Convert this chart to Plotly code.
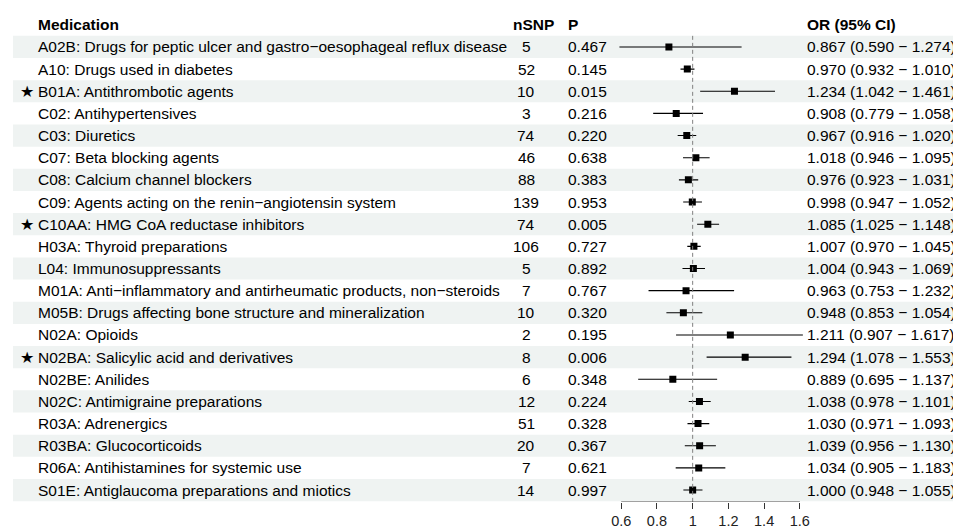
import plotly.graph_objects as go

medication = [
    "A02B: Drugs for peptic ulcer and gastro\u2212oesophageal reflux disease",
    "A10: Drugs used in diabetes",
    "B01A: Antithrombotic agents",
    "C02: Antihypertensives",
    "C03: Diuretics",
    "C07: Beta blocking agents",
    "C08: Calcium channel blockers",
    "C09: Agents acting on the renin\u2212angiotensin system",
    "C10AA: HMG CoA reductase inhibitors",
    "H03A: Thyroid preparations",
    "L04: Immunosuppressants",
    "M01A: Anti\u2212inflammatory and antirheumatic products, non\u2212steroids",
    "M05B: Drugs affecting bone structure and mineralization",
    "N02A: Opioids",
    "N02BA: Salicylic acid and derivatives",
    "N02BE: Anilides",
    "N02C: Antimigraine preparations",
    "R03A: Adrenergics",
    "R03BA: Glucocorticoids",
    "R06A: Antihistamines for systemic use",
    "S01E: Antiglaucoma preparations and miotics",
]
starred = [False, False, True, False, False, False, False, False, True, False, False,
           False, False, False, True, False, False, False, False, False, False]
nsnp = [5, 52, 10, 3, 74, 46, 88, 139, 74, 106, 5, 7, 10, 2, 8, 6, 12, 51, 20, 7, 14]
pval = ["0.467", "0.145", "0.015", "0.216", "0.220", "0.638", "0.383", "0.953", "0.005",
        "0.727", "0.892", "0.767", "0.320", "0.195", "0.006", "0.348", "0.224", "0.328",
        "0.367", "0.621", "0.997"]
or_est = [0.867, 0.970, 1.234, 0.908, 0.967, 1.018, 0.976, 0.998, 1.085, 1.007, 1.004,
          0.963, 0.948, 1.211, 1.294, 0.889, 1.038, 1.030, 1.039, 1.034, 1.000]
ci_low = [0.590, 0.932, 1.042, 0.779, 0.916, 0.946, 0.923, 0.947, 1.025, 0.970, 0.943,
          0.753, 0.853, 0.907, 1.078, 0.695, 0.978, 0.971, 0.956, 0.905, 0.948]
ci_high = [1.274, 1.010, 1.461, 1.058, 1.020, 1.095, 1.031, 1.052, 1.148, 1.045, 1.069,
           1.232, 1.054, 1.617, 1.553, 1.137, 1.101, 1.093, 1.130, 1.183, 1.055]
tick_vals = [0.6, 0.8, 1.0, 1.2, 1.4, 1.6]
tick_text = ["0.6", "0.8", "1", "1.2", "1.4", "1.6"]
headers = ["Medication", "nSNP", "P", "OR (95% CI)"]

# The page body has an 8px margin; the figure is sized to fill the rest of the window.
OFF = 8
W, H = 961 - OFF, 529 - OFF
FONT = "Liberation Sans, Arial, Helvetica, sans-serif"
FS = 15.5
n = len(medication)
rows = list(range(n))

# layout positions measured in window pixels, converted to figure pixels
row_h = 22.2
row0 = 47.0 - OFF
axis_px = 503.0 - OFF
y_top = -row0 / row_h
y_bot = (axis_px - row0) / row_h
px_per_unit = 179.0
x06_px = 621.5 - OFF
xr = [0.55, 1.65]
dom = [(x06_px + (xr[0] - 0.6) * px_per_unit) / W, (x06_px + (xr[1] - 0.6) * px_per_unit) / W]

fig = go.Figure()
fig.add_trace(go.Scatter(
    x=or_est, y=rows, mode="markers",
    marker=dict(symbol="square", size=7, color="black"),
    error_x=dict(type="data", symmetric=False,
                 array=[h - o for h, o in zip(ci_high, or_est)],
                 arrayminus=[o - l for o, l in zip(or_est, ci_low)],
                 color="black", thickness=1.1, width=0),
    showlegend=False, hoverinfo="skip",
))

shapes = []
for i in rows:
    if i % 2 == 0:
        shapes.append(dict(type="rect", xref="paper", yref="y", x0=(12 - OFF) / W, x1=1,
                           y0=i - 0.5, y1=i + 0.5, fillcolor="#eff3f2",
                           line=dict(width=0), layer="below"))
shapes.append(dict(type="line", xref="x", yref="y", x0=1, x1=1, y0=-0.5, y1=y_bot,
                   line=dict(color="#808080", width=1, dash="4px,3px")))
shapes.append(dict(type="line", xref="x", yref="y", x0=tick_vals[0], x1=tick_vals[-1],
                   y0=y_bot, y1=y_bot, line=dict(color="#333333", width=1)))

ann = []
def txt(x_px, y, s, anchor="left", bold=False, size=FS):
    ann.append(dict(xref="paper", yref="y", x=(x_px - OFF) / W, y=y,
                    text=f"<b>{s}</b>" if bold else s,
                    showarrow=False, xanchor=anchor, yanchor="middle",
                    borderpad=0, borderwidth=0,
                    font=dict(family=FONT, size=size, color="black")))

txt(37.3, -1, headers[0], bold=True)
txt(513, -1, headers[1], bold=True)
txt(568, -1, headers[2], bold=True)
txt(808, -1, headers[3], bold=True)
for i in rows:
    if starred[i]:
        txt(26.5, i, "\u2605", anchor="center", size=16)
    txt(37.3, i, medication[i])
    txt(526.5, i, str(nsnp[i]), anchor="center")
    txt(568, i, pval[i])
    txt(808, i, f"{or_est[i]:.3f} ({ci_low[i]:.3f} \u2212 {ci_high[i]:.3f})")

fig.update_layout(
    width=W, height=H, margin=dict(l=0, r=0, t=0, b=0),
    paper_bgcolor="white", plot_bgcolor="rgba(0,0,0,0)",
    shapes=shapes, annotations=ann,
    xaxis=dict(domain=dom, range=xr, showgrid=False, zeroline=False, showline=False,
               tickvals=tick_vals, ticktext=tick_text, ticks="outside", ticklen=6,
               tickcolor="#333333", tickwidth=1,
               tickfont=dict(family=FONT, size=14.5, color="#222222")),
    yaxis=dict(domain=[(H - axis_px) / H, 1], range=[y_bot, y_top], visible=False),
)
fig.write_html("out.html")
